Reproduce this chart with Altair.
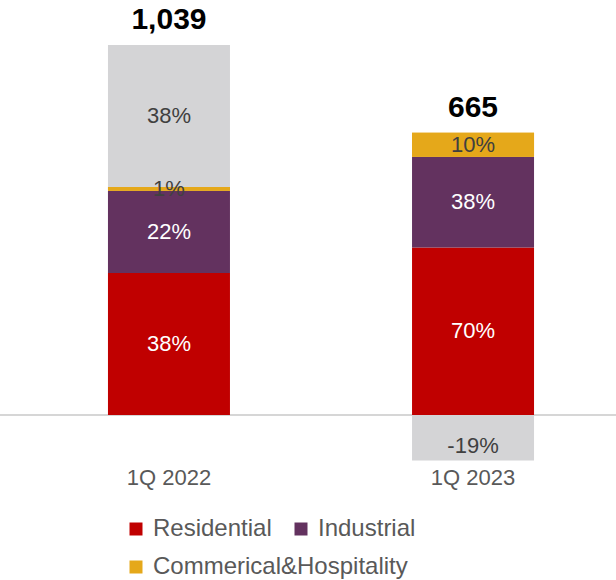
import altair as alt
import pandas as pd

periods = ["1Q 2022", "1Q 2023"]
totals = [1039, 665]
categories = ["Residential", "Industrial", "Commerical&Hospitality", "Other"]
pct_2022 = [38, 22, 1, 38]
pct_2023 = [70, 38, 10, -19]
colors = ["#c00000", "#63325f", "#e5a81a", "#d4d4d6"]
label_colors = ["#ffffff", "#ffffff", "#404040", "#404040"]

rows = []
for p, tot, pcts in zip(periods, totals, [pct_2022, pct_2023]):
    for i, (c, pc) in enumerate(zip(categories, pcts)):
        rows.append({"period": p, "category": c, "pct": pc, "order": i,
                     "value": pc / 100.0 * tot})
df = pd.DataFrame(rows)

top_rows = []
for p, tot in zip(periods, totals):
    sub = df[(df.period == p) & (df.value > 0)]
    top_rows.append({"period": p, "total": tot, "top": sub.value.sum()})
tdf = pd.DataFrame(top_rows)

FONT = "Liberation Sans"
px_per_unit = 142 / (0.38 * 1039)
H = 465
zero_y = 415
ydom = [-(H - zero_y) / px_per_unit, zero_y / px_per_unit]

xscale = alt.Scale(domain=periods, range=[108, 534], paddingInner=0.599, paddingOuter=0)
yscale = alt.Scale(domain=ydom, nice=False, zero=False)

xenc = alt.X("period:N", scale=xscale, sort=periods,
             axis=alt.Axis(title=None, domain=False, ticks=False, labelAngle=0,
                           labelFont=FONT, labelFontSize=22, labelColor="#595959",
                           labelPadding=2))

legend_common = dict(title=None, orient="none", direction="horizontal",
                     symbolType="square", symbolSize=169, symbolStrokeWidth=0,
                     labelFont=FONT, labelFontSize=24, labelColor="#595959",
                     labelOffset=5, columnPadding=17, labelLimit=0, legendX=124)

zero_line = alt.Chart(pd.DataFrame({"v": [0]})).mark_rule(
    color="#d6d6d6", strokeWidth=2
).encode(y=alt.Y("v:Q", scale=yscale, axis=None))

bars = alt.Chart(df).mark_bar(size=122).encode(
    x=xenc,
    y=alt.Y("value:Q", stack="zero", scale=yscale, axis=None),
    color=alt.Color("category:N",
                    scale=alt.Scale(domain=categories, range=colors),
                    legend=alt.Legend(values=categories[:2], legendY=517, **legend_common)),
    order=alt.Order("order:Q"),
)

stacked = alt.Chart(df).transform_stack(
    stack="value", groupby=["period"], as_=["v0", "v1"],
    sort=[alt.SortField("order", order="ascending")]
)

comm_bar = stacked.transform_filter(
    alt.datum.category == categories[2]
).mark_bar(size=122).encode(
    x=alt.X("period:N", scale=xscale, sort=periods),
    y=alt.Y("v0:Q", scale=yscale),
    y2="v1:Q",
    color=alt.Color("category:N",
                    scale=alt.Scale(domain=[categories[2]], range=[colors[2]]),
                    legend=alt.Legend(legendY=555, **legend_common)),
)

base_txt = stacked.transform_calculate(
    mid="(datum.v0 + datum.v1) / 2", lbl="datum.pct + '%'"
)

txt_col = alt.Color("category:N", scale=alt.Scale(domain=categories, range=label_colors),
                    legend=None)

pos_txt = base_txt.transform_filter("datum.value >= 0").mark_text(
    font=FONT, fontSize=22, baseline="middle"
).encode(x=alt.X("period:N", scale=xscale, sort=periods), y=alt.Y("mid:Q", scale=yscale),
         text="lbl:N", color=txt_col)

neg_txt = base_txt.transform_filter("datum.value < 0").mark_text(
    font=FONT, fontSize=22, baseline="middle", dy=8
).encode(x=alt.X("period:N", scale=xscale, sort=periods), y=alt.Y("mid:Q", scale=yscale),
         text="lbl:N", color=txt_col)

tot_txt = alt.Chart(tdf).mark_text(
    font=FONT, fontSize=30, fontWeight="bold", color="#000000", baseline="middle", dy=-25
).encode(x=alt.X("period:N", scale=xscale, sort=periods), y=alt.Y("top:Q", scale=yscale),
         text=alt.Text("total:Q", format=","))

chart = alt.layer(zero_line, bars, comm_bar, pos_txt, neg_txt, tot_txt).resolve_scale(
    color="independent"
).properties(
    width=616, height=H,
    background="white",
    autosize=alt.AutoSizeParams(type="none"),
    padding={"left": 0, "top": 0, "right": 0, "bottom": 115},
).configure_view(strokeWidth=0)

chart.save("out.html", embed_options={"renderer": "svg", "actions": False})
